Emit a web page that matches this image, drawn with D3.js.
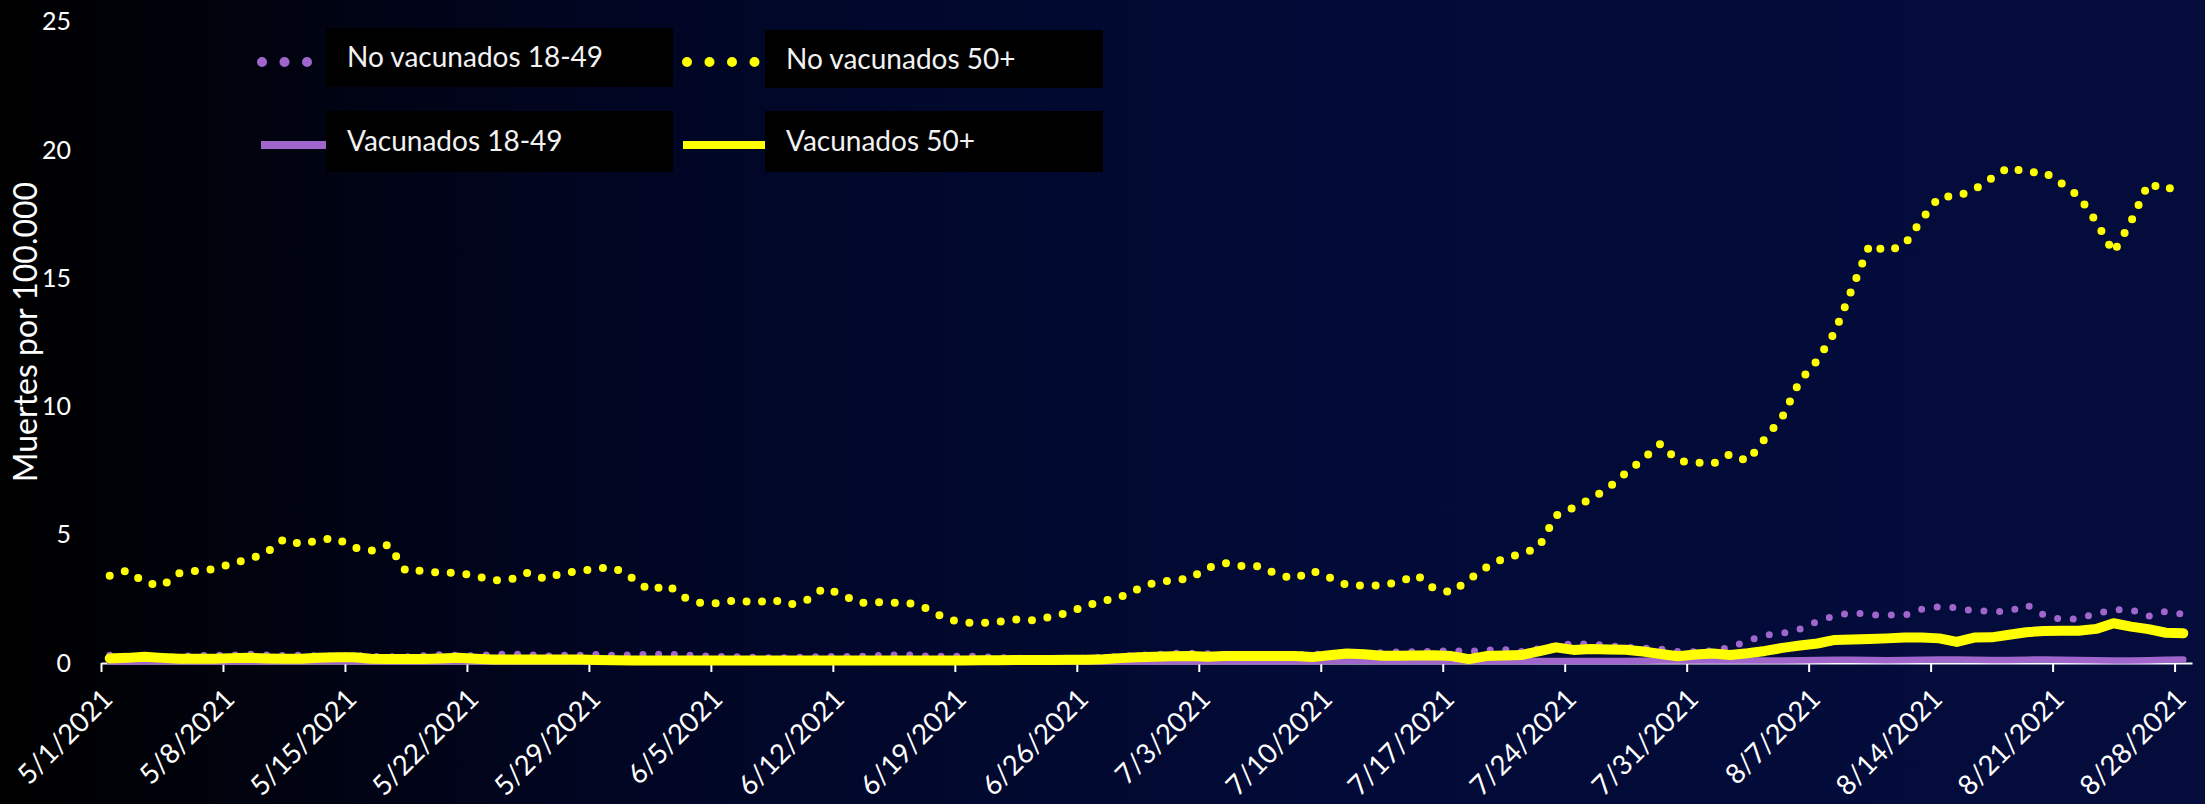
<!DOCTYPE html>
<html>
<head>
<meta charset="utf-8">
<script src="https://cdn.jsdelivr.net/npm/d3@7"></script>
<style>
  html, body { margin: 0; padding: 0; background: #000; }
  svg { display: block; }
</style>
</head>
<body>
<div class="chart-area"></div>
<script>
// daily values, 5/1/2021 .. 8/28/2021
const startDate = "2021-05-01";
const dayCount = 120;

const seriesNames = ["No vacunados 18-49", "No vacunados 50+", "Vacunados 18-49", "Vacunados 50+"];

const noVac1849 = [
  0.30, 0.25, 0.22, 0.22, 0.25, 0.29, 0.30, 0.31, 0.34, 0.31,
  0.29, 0.30, 0.28, 0.27, 0.30, 0.26, 0.24, 0.24, 0.28, 0.33,
  0.29, 0.28, 0.33, 0.35, 0.33, 0.27, 0.30, 0.30, 0.34, 0.29,
  0.32, 0.34, 0.34, 0.31, 0.28, 0.25, 0.24, 0.22, 0.20, 0.20,
  0.24, 0.25, 0.25, 0.26, 0.29, 0.31, 0.31, 0.27, 0.26, 0.27,
  0.25, 0.21, 0.19, 0.16, 0.16, 0.16, 0.19, 0.22, 0.26, 0.30,
  0.33, 0.38, 0.38, 0.36, 0.33, 0.32, 0.32, 0.32, 0.33, 0.33,
  0.35, 0.36, 0.37, 0.40, 0.43, 0.44, 0.46, 0.48, 0.45, 0.50,
  0.53, 0.45, 0.55, 0.68, 0.75, 0.74, 0.68, 0.62, 0.58, 0.54,
  0.45, 0.44, 0.48, 0.61, 0.87, 1.08, 1.16, 1.32, 1.62, 1.84,
  1.97, 1.87, 1.87, 1.86, 2.10, 2.20, 2.15, 2.03, 2.02, 2.00,
  2.28, 1.87, 1.70, 1.72, 1.93, 2.07, 2.08, 1.82, 2.02, 1.90
];

const noVac50 = [
  3.40, 3.60, 3.15, 3.00, 3.50, 3.60, 3.66, 3.88, 4.05, 4.30,
  4.83, 4.62, 4.80, 4.86, 4.50, 4.38, 4.61, 3.58, 3.60, 3.51,
  3.52, 3.40, 3.22, 3.25, 3.52, 3.27, 3.52, 3.58, 3.70, 3.70,
  3.30, 2.82, 3.05, 2.55, 2.32, 2.33, 2.46, 2.34, 2.48, 2.27,
  2.45, 2.92, 2.68, 2.34, 2.37, 2.35, 2.32, 2.10, 1.72, 1.57,
  1.56, 1.60, 1.70, 1.66, 1.80, 1.96, 2.22, 2.42, 2.57, 2.88,
  3.15, 3.22, 3.30, 3.70, 3.90, 3.77, 3.77, 3.45, 3.28, 3.60,
  3.33, 3.04, 3.01, 3.03, 3.15, 3.44, 2.90, 2.75, 3.25, 3.72,
  4.08, 4.25, 4.50, 5.75, 6.05, 6.40, 6.82, 7.40, 7.95, 8.55,
  7.87, 7.82, 7.76, 8.15, 7.87, 8.75, 9.60, 11.0, 11.8, 12.9,
  14.6, 16.3, 16.05, 16.3, 17.3, 18.18, 18.2, 18.45, 18.9, 19.33,
  19.12, 19.15, 18.7, 18.2, 17.2, 16.0, 17.2, 18.7, 18.43, 18.78
];

const vac1849 = [
  0.06, 0.05, 0.07, 0.08, 0.07, 0.06, 0.06, 0.06, 0.06, 0.06,
  0.07, 0.07, 0.08, 0.08, 0.07, 0.06, 0.06, 0.06, 0.06, 0.06,
  0.07, 0.07, 0.06, 0.06, 0.06, 0.06, 0.06, 0.06, 0.06, 0.06,
  0.06, 0.05, 0.05, 0.05, 0.05, 0.05, 0.05, 0.05, 0.05, 0.05,
  0.05, 0.05, 0.05, 0.05, 0.05, 0.05, 0.05, 0.05, 0.05, 0.05,
  0.05, 0.05, 0.05, 0.05, 0.05, 0.06, 0.06, 0.06, 0.06, 0.06,
  0.07, 0.07, 0.07, 0.07, 0.07, 0.07, 0.07, 0.07, 0.07, 0.07,
  0.08, 0.09, 0.09, 0.08, 0.08, 0.08, 0.08, 0.08, 0.08, 0.08,
  0.08, 0.08, 0.08, 0.08, 0.08, 0.08, 0.08, 0.08, 0.09, 0.10,
  0.10, 0.10, 0.10, 0.10, 0.10, 0.10, 0.10, 0.11, 0.12, 0.13,
  0.13, 0.12, 0.11, 0.12, 0.13, 0.14, 0.14, 0.13, 0.12, 0.12,
  0.13, 0.14, 0.13, 0.12, 0.11, 0.10, 0.10, 0.11, 0.13, 0.14
];

const vac50 = [
  0.18, 0.20, 0.24, 0.20, 0.17, 0.17, 0.17, 0.19, 0.20, 0.18,
  0.17, 0.17, 0.20, 0.22, 0.22, 0.17, 0.16, 0.16, 0.16, 0.18,
  0.20, 0.17, 0.14, 0.14, 0.14, 0.14, 0.14, 0.14, 0.12, 0.11,
  0.10, 0.10, 0.10, 0.10, 0.10, 0.10, 0.10, 0.10, 0.10, 0.10,
  0.10, 0.10, 0.10, 0.10, 0.10, 0.10, 0.10, 0.10, 0.10, 0.10,
  0.11, 0.11, 0.12, 0.12, 0.12, 0.13, 0.13, 0.15, 0.19, 0.22,
  0.24, 0.26, 0.27, 0.24, 0.27, 0.27, 0.27, 0.27, 0.27, 0.23,
  0.30, 0.37, 0.34, 0.28, 0.28, 0.29, 0.30, 0.27, 0.15, 0.27,
  0.29, 0.31, 0.45, 0.61, 0.51, 0.55, 0.53, 0.52, 0.45, 0.35,
  0.26, 0.33, 0.37, 0.31, 0.38, 0.47, 0.59, 0.68, 0.76, 0.90,
  0.92, 0.94, 0.96, 0.99, 0.99, 0.96, 0.82, 0.99, 1.00, 1.10,
  1.20, 1.25, 1.26, 1.26, 1.33, 1.55, 1.42, 1.32, 1.18, 1.16
];

const yTicks = [0, 5, 10, 15, 20, 25];
const tickLabels = ["5/1/2021", "5/8/2021", "5/15/2021", "5/22/2021", "5/29/2021", "6/5/2021",
  "6/12/2021", "6/19/2021", "6/26/2021", "7/3/2021", "7/10/2021", "7/17/2021",
  "7/24/2021", "7/31/2021", "8/7/2021", "8/14/2021", "8/21/2021", "8/28/2021"];
const yTitle = "Muertes por 100.000";

let width = 2205, height = 804;
let purple = "#a066cc", yellow = "#ffff00";

let svg = d3.select("div.chart-area").append("svg")
  .attr("width", width)
  .attr("height", height);

let grad = svg.append("defs").append("linearGradient")
  .attr("id", "bg").attr("x1", 0).attr("x2", 1).attr("y1", 0).attr("y2", 0);
grad.append("stop").attr("offset", "0%").attr("stop-color", "#000000");
grad.append("stop").attr("offset", "30%").attr("stop-color", "#010625");
grad.append("stop").attr("offset", "60%").attr("stop-color", "#020b37");
grad.append("stop").attr("offset", "100%").attr("stop-color", "#030c3b");
svg.append("rect").attr("width", width).attr("height", height).attr("fill", "url(#bg)");

let parse = d3.utcParse("%Y-%m-%d");
let start = parse(startDate);
let days = d3.utcDay.range(start, d3.utcDay.offset(start, dayCount));

let x = d3.scaleUtc()
  .domain([start, d3.utcDay.offset(start, dayCount)])
  .range([101, 2192]);
let y = d3.scaleLinear().domain([0, 25]).range([663, 21.7]);

// x axis (ticks on day boundaries, points mid-day)
let labelParse = d3.utcParse("%m/%d/%Y");
let tickDates = tickLabels.map(function(t) { return labelParse(t); });
let labelOf = new Map(tickDates.map(function(d, i) { return [+d, tickLabels[i]]; }));

let xAxis = svg.append("g")
  .attr("transform", "translate(0," + y(0) + ")")
  .call(d3.axisBottom(x).tickValues(tickDates).tickSizeInner(9).tickSizeOuter(0)
    .tickFormat(function(d) { return labelOf.get(+d); }));
xAxis.select(".domain").attr("stroke", "#ffffff").attr("stroke-width", 2);
xAxis.selectAll(".tick line").attr("stroke", "#ffffff").attr("stroke-width", 2);
xAxis.selectAll(".tick text")
  .attr("fill", "#ffffff")
  .style("font-family", "Lato, 'Open Sans', sans-serif")
  .style("font-size", "27.5px")
  .attr("text-anchor", "end")
  .attr("y", 0).attr("dy", "0.35em")
  .attr("transform", "translate(6,31) rotate(-45)");

// y labels
svg.append("g").selectAll("text")
  .data(yTicks)
  .enter().append("text")
  .attr("x", 71)
  .attr("y", function(d) { return y(d); })
  .attr("dy", "0.35em")
  .attr("text-anchor", "end")
  .attr("fill", "#ffffff")
  .style("font-family", "Lato, sans-serif")
  .style("font-size", "25px")
  .text(function(d) { return d; });

svg.append("text")
  .attr("transform", "translate(26,332) rotate(-90)")
  .attr("text-anchor", "middle")
  .attr("dy", "0.35em")
  .attr("fill", "#ffffff")
  .style("font-family", "Lato, sans-serif")
  .style("font-size", "32px")
  .text(yTitle);

// series
let series = [
  { name: seriesNames[2], values: vac1849, color: purple, width: 6.5, dotted: false },
  { name: seriesNames[0], values: noVac1849, color: purple, width: 7, dotted: true },
  { name: seriesNames[1], values: noVac50, color: yellow, width: 8, dotted: true },
  { name: seriesNames[3], values: vac50, color: yellow, width: 10, dotted: false }
];

let line = d3.line()
  .x(function(d, i) { return x(d3.utcHour.offset(days[i], 12)); })
  .y(function(d) { return y(d); });

svg.append("g").attr("class", "lines")
  .selectAll("path")
  .data(series)
  .enter().append("path")
  .attr("d", function(s) { return line(s.values); })
  .attr("fill", "none")
  .attr("stroke", function(s) { return s.color; })
  .attr("stroke-width", function(s) { return s.width; })
  .attr("stroke-linecap", "round")
  .attr("stroke-linejoin", "round")
  .attr("stroke-dasharray", function(s) { return s.dotted ? "0 15.7" : null; });

// legend
let legendItems = [
  { name: seriesNames[0], color: purple, dotted: true, box: [326, 28, 347, 59], sample: [262, 312, 62] },
  { name: seriesNames[1], color: yellow, dotted: true, box: [765, 30, 338, 58], sample: [687, 755, 62] },
  { name: seriesNames[2], color: purple, dotted: false, box: [326, 111, 347, 61], sample: [261, 326, 145] },
  { name: seriesNames[3], color: yellow, dotted: false, box: [765, 111, 338, 61], sample: [683, 765, 145] }
];

let legend = svg.append("g").attr("class", "legend")
  .selectAll("g")
  .data(legendItems)
  .enter().append("g");

legend.append("rect")
  .attr("x", function(d) { return d.box[0]; })
  .attr("y", function(d) { return d.box[1]; })
  .attr("width", function(d) { return d.box[2]; })
  .attr("height", function(d) { return d.box[3]; })
  .attr("fill", "#000000");

legend.append("line")
  .attr("x1", function(d) { return d.sample[0]; })
  .attr("x2", function(d) { return d.sample[1]; })
  .attr("y1", function(d) { return d.sample[2]; })
  .attr("y2", function(d) { return d.sample[2]; })
  .attr("stroke", function(d) { return d.color; })
  .attr("stroke-width", function(d) { return d.dotted ? 10 : 8; })
  .attr("stroke-linecap", function(d) { return d.dotted ? "round" : "butt"; })
  .attr("stroke-dasharray", function(d) { return d.dotted ? "0 22.5" : null; });

legend.append("text")
  .attr("x", function(d) { return d.box[0] + 21; })
  .attr("y", function(d) { return d.box[1] + d.box[3] / 2; })
  .attr("dy", "0.35em")
  .attr("fill", "#f2f2f2")
  .style("font-family", "Lato, sans-serif")
  .style("font-size", "28px")
  .text(function(d) { return d.name; });
</script>
</body>
</html>
